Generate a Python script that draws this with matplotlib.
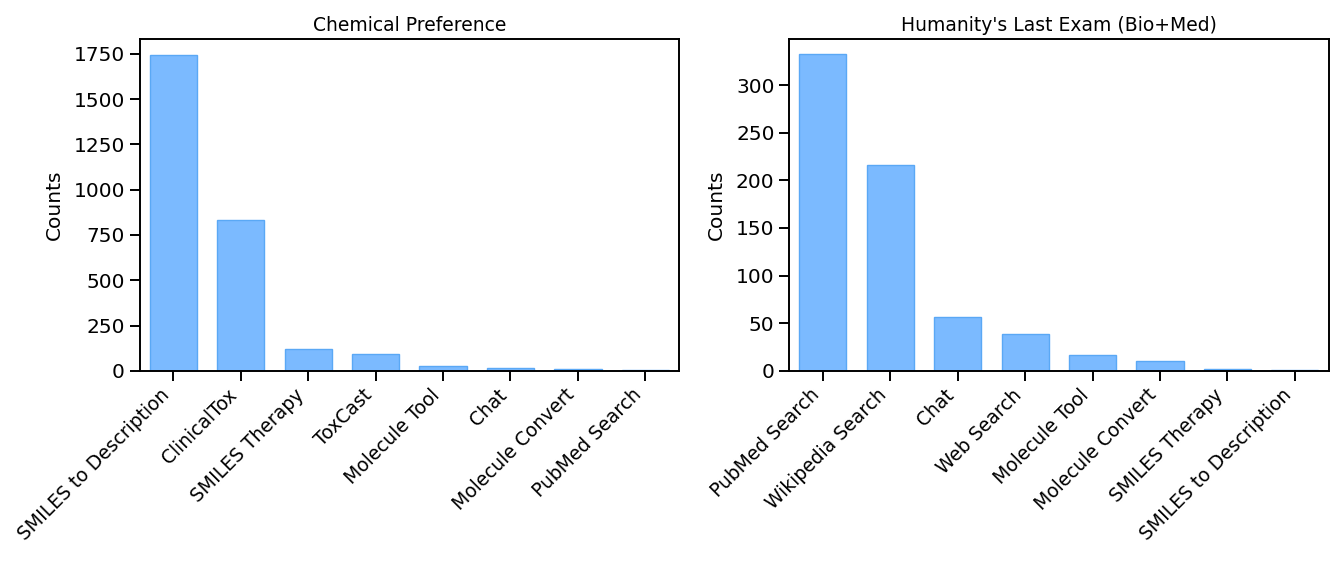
import matplotlib
matplotlib.use("Agg")
import matplotlib.pyplot as plt

chem_labels = ["SMILES to Description", "ClinicalTox", "SMILES Therapy", "ToxCast",
               "Molecule Tool", "Chat", "Molecule Convert", "PubMed Search"]
chem_counts = [1742, 835, 121, 95, 26, 18, 11, 3]

hle_labels = ["PubMed Search", "Wikipedia Search", "Chat", "Web Search",
              "Molecule Tool", "Molecule Convert", "SMILES Therapy", "SMILES to Description"]
hle_counts = [333, 216, 57, 39, 17, 10, 2, 1]

fig = plt.figure(figsize=(13.42, 5.61), dpi=100)
ax1 = fig.add_axes([0.104, 0.339, 0.402, 0.591])
ax2 = fig.add_axes([0.588, 0.339, 0.402, 0.591])

face = "#7BBAFF"
edge = "#5AA8F5"

for ax, labels, counts, title in [(ax1, chem_labels, chem_counts, "Chemical Preference"),
                                   (ax2, hle_labels, hle_counts, "Humanity's Last Exam (Bio+Med)")]:
    x = range(len(labels))
    ax.bar(x, counts, width=0.7, color=face, edgecolor=edge, linewidth=1)
    ax.set_xlim(-0.5, len(labels) - 0.5)
    ax.set_xticks(list(x))
    ax.set_xticklabels(labels, rotation=45, ha="right", fontsize=13.5)
    ax.tick_params(axis="y", labelsize=14.5)
    ax.tick_params(length=7, width=1.4)
    for s in ax.spines.values():
        s.set_linewidth(1.4)
    ax.set_ylabel("Counts", fontsize=14.5, labelpad=7)
    ax.set_title(title, fontsize=13.5)

ax1.set_ylim(0, 1830)
ax2.set_ylim(0, 348)

fig.savefig("out.png", dpi=100)
